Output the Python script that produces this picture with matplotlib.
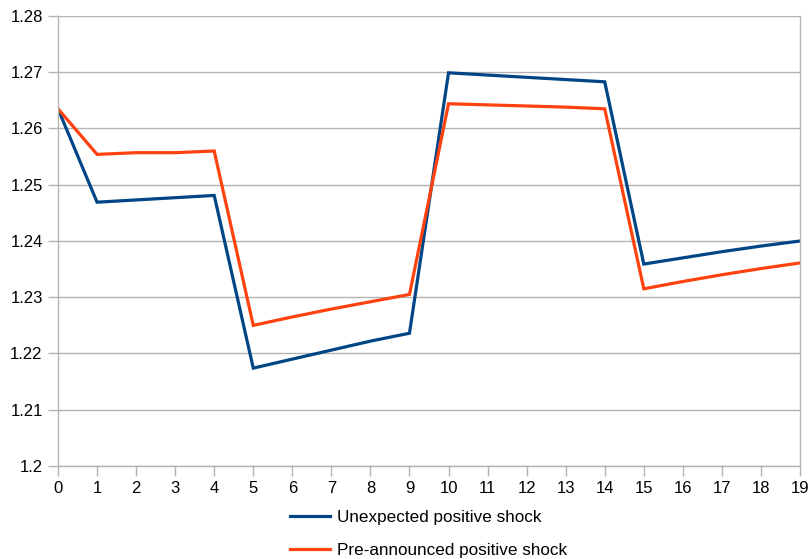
import matplotlib
matplotlib.use("Agg")
import matplotlib.pyplot as plt

periods = list(range(20))
unexpected = [1.2635, 1.2469, 1.2473, 1.2477, 1.2481,
              1.2174, 1.2190, 1.2206, 1.2222, 1.2236,
              1.2699, 1.2695, 1.2691, 1.2687, 1.2683,
              1.2359, 1.2370, 1.2381, 1.2391, 1.2400]
preannounced = [1.2635, 1.2554, 1.2557, 1.2557, 1.2560,
                1.2250, 1.2265, 1.2279, 1.2292, 1.2305,
                1.2644, 1.2642, 1.2640, 1.2638, 1.2635,
                1.2315, 1.2328, 1.2340, 1.2351, 1.2361]
y_ticks = [1.20, 1.21, 1.22, 1.23, 1.24, 1.25, 1.26, 1.27, 1.28]
y_labels = ["1.2", "1.21", "1.22", "1.23", "1.24", "1.25", "1.26", "1.27", "1.28"]

plt.rcParams['font.family'] = ['Liberation Sans', 'DejaVu Sans']

fig = plt.figure(figsize=(8.12, 5.59), dpi=100)
ax = fig.add_axes([58/812, 1-466/559, (800-58)/812, (466-16)/559])

ax.plot(periods, unexpected, color='#004586', lw=2.3, label='Unexpected positive shock', solid_joinstyle='miter')
ax.plot(periods, preannounced, color='#ff420e', lw=2.3, label='Pre-announced positive shock', solid_joinstyle='miter')

ax.set_xlim(0, 19)
ax.set_ylim(1.2, 1.28)
ax.set_xticks(periods)
ax.set_yticks(y_ticks)
ax.set_yticklabels(y_labels)
ax.grid(axis='y', color='#b3b3b3', lw=1)
ax.set_axisbelow(True)
for s in ['left', 'bottom', 'right', 'top']:
    ax.spines[s].set_color('#b3b3b3')
    ax.spines[s].set_linewidth(1)
ax.spines['top'].set_visible(False)
ax.tick_params(axis='both', colors='#b3b3b3', labelcolor='black', labelsize=12, length=7, width=1, direction='out')
ax.tick_params(axis='x', pad=4)
ax.tick_params(axis='y', pad=4)

fig.legend(loc='upper center', bbox_to_anchor=(429/812, 1-495/559), ncol=1, frameon=False,
           fontsize=12.3, handlelength=2.3, handletextpad=0.45, labelspacing=1.05)

fig.savefig('out.png', dpi=100)
